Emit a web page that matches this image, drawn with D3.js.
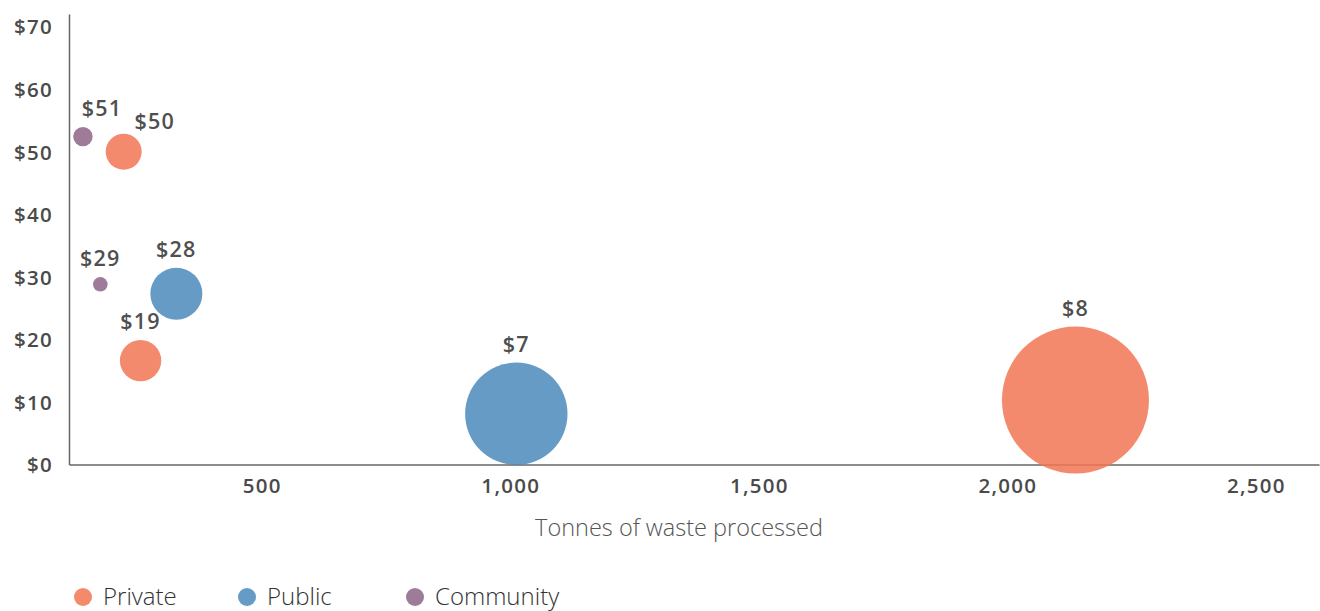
<!DOCTYPE html>
<html>
<head>
<meta charset="utf-8">
<script src="https://cdn.jsdelivr.net/npm/d3@7"></script>
<style>
  body { margin: 0; background: #fff; }
  svg { display: block; font-family: "Open Sans", sans-serif; }
  .axis .domain { stroke: #666; stroke-width: 1.5; }
  .axis text { fill: #4a4a4a; font-size: 20.5px; font-weight: 600; letter-spacing: 1.3px; font-family: "Open Sans", sans-serif; }
</style>
</head>
<body>
<script>
// data
var sector = ["Community", "Private", "Community", "Public", "Private", "Public", "Private"];
var tonnes = [140, 222, 175, 328, 256, 1012, 2137];
var costPerTonne = [52.4, 50.0, 28.8, 27.3, 16.6, 8.1, 10.3];
var costLabel = ["$51", "$50", "$29", "$28", "$19", "$7", "$8"];
var bubbleSize = [94, 324, 53, 676, 428, 2621, 5402];

var sectors = ["Private", "Public", "Community"];
var xTicks = [500, 1000, 1500, 2000, 2500];
var yTicks = [0, 10, 20, 30, 40, 50, 60, 70];

var width = 1320, height = 611;
var margin = {top: 14, right: 1, bottom: 146.5, left: 69};

var svg = d3.select("body").append("svg")
    .attr("width", width)
    .attr("height", height);

var x = d3.scaleLinear()
    .domain([112, 2627])
    .range([margin.left, width - margin.right]);

var y = d3.scaleLinear()
    .domain([0, 72])
    .range([height - margin.bottom, margin.top]);

var r = d3.scaleSqrt()
    .domain([0, d3.max(bubbleSize)])
    .range([0, 73.5]);

// bubble colours (drawn a bit see-through, like the original)
var color = d3.scaleOrdinal()
    .domain(sectors)
    .range(["#f27554", "#4a89ba", "#8e6488"]);
var legendColor = d3.scaleOrdinal()
    .domain(sectors)
    .range(["#f48a6c", "#659bc4", "#9f7b9a"]);

//axes
var xAxis = svg.append("g")
    .attr("class", "axis")
    .attr("transform", "translate(0," + y(0) + ")")
    .call(d3.axisBottom(x).tickValues(xTicks).tickSize(0).tickPadding(14)
        .tickFormat(d3.format(",")));

var yAxis = svg.append("g")
    .attr("class", "axis")
    .attr("transform", "translate(" + margin.left + ",0)")
    .call(d3.axisLeft(y).tickValues(yTicks).tickSize(0).tickPadding(16)
        .tickFormat(function(d){ return "$" + d; }));

svg.selectAll(".axis").attr("font-family", null).attr("font-size", null);
xAxis.selectAll("text").attr("dy", "0.71em");
yAxis.selectAll("text").attr("dy", "0.36em");

svg.append("text")
    .attr("x", 679)
    .attr("y", 536)
    .attr("text-anchor", "middle")
    .attr("fill", "#555")
    .style("font-size", "23.5px")
    .style("font-weight", 300)
    .text("Tonnes of waste processed");

//bubbles
var rows = tonnes.map(function(t, i){
    return {sector: sector[i], tonnes: t, cost: costPerTonne[i], label: costLabel[i], size: bubbleSize[i]};
});

svg.append("g")
    .selectAll("circle")
    .data(rows)
    .enter()
    .append("circle")
        .attr("cx", function(d){ return x(d.tonnes); })
        .attr("cy", function(d){ return y(d.cost); })
        .attr("r", function(d){ return r(d.size); })
        .attr("fill", function(d){ return color(d.sector); })
        .attr("fill-opacity", 0.85);

// two labels are pushed aside so they don't collide
var labelNudge = {"$51": [19, 0], "$50": [31, 6]};

svg.append("g")
    .selectAll("text")
    .data(rows)
    .enter()
    .append("text")
        .attr("x", function(d){ return x(d.tonnes) + (labelNudge[d.label] ? labelNudge[d.label][0] : 0); })
        .attr("y", function(d){ return y(d.cost) - r(d.size) - 11 + (labelNudge[d.label] ? labelNudge[d.label][1] : 0); })
        .attr("text-anchor", "middle")
        .attr("fill", "#4f4f4f")
        .style("font-size", "21.5px")
        .style("font-weight", 600)
        .style("letter-spacing", "1.2px")
        .text(function(d){ return d.label; });

//legend
var legendX = [83, 247, 415];
var legend = svg.append("g")
    .selectAll("g")
    .data(sectors)
    .enter()
    .append("g")
        .attr("transform", function(d, i){ return "translate(" + legendX[i] + ",597)"; });

legend.append("circle")
    .attr("r", 9)
    .attr("fill", function(d){ return legendColor(d); });

legend.append("text")
    .attr("x", 20)
    .attr("y", 7.5)
    .attr("fill", "#333")
    .style("font-size", "24px")
    .style("font-weight", 300)
    .text(function(d){ return d; });
</script>
</body>
</html>
